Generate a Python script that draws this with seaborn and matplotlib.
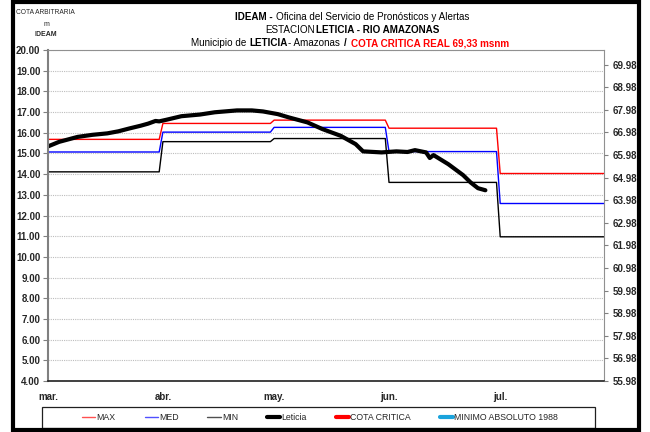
import numpy as np
import pandas as pd
import matplotlib
matplotlib.use("Agg")
import matplotlib.pyplot as plt
from matplotlib import font_manager
from matplotlib.lines import Line2D
from matplotlib.patches import Rectangle
import seaborn as sns

# ---- data -------------------------------------------------------------
months = ["2010-03", "2010-04", "2010-05", "2010-06", "2010-07"]
month_labels = ["mar.", "abr.", "may.", "jun.", "jul."]

# monthly reference levels (m, arbitrary datum)
cota_max = [15.68, 16.45, 16.61, 16.22, 14.03]
cota_med = [15.07, 16.03, 16.26, 15.09, 12.58]
cota_min = [14.11, 15.57, 15.72, 13.60, 10.97]

# observed river stage at Leticia
leticia_dates = [
    "2010-03-01", "2010-03-04", "2010-03-09", "2010-03-13", "2010-03-17",
    "2010-03-20", "2010-03-23", "2010-03-26", "2010-03-28", "2010-03-30",
    "2010-03-31", "2010-04-02", "2010-04-06", "2010-04-11", "2010-04-15",
    "2010-04-21", "2010-04-25", "2010-04-28", "2010-05-02", "2010-05-05",
    "2010-05-10", "2010-05-14", "2010-05-19", "2010-05-23", "2010-05-25",
    "2010-05-30", "2010-06-03", "2010-06-06", "2010-06-08", "2010-06-11",
    "2010-06-12", "2010-06-13", "2010-06-17", "2010-06-21", "2010-06-23",
    "2010-06-25", "2010-06-27",
]
leticia_levels = [
    15.34, 15.56, 15.80, 15.90, 15.97,
    16.07, 16.21, 16.34, 16.44, 16.57,
    16.55, 16.63, 16.80, 16.88, 16.99,
    17.08, 17.08, 17.03, 16.90, 16.74,
    16.50, 16.18, 15.85, 15.45, 15.10,
    15.05, 15.10, 15.07, 15.16, 15.05,
    14.78, 14.92, 14.48, 13.95, 13.60,
    13.32, 13.22,
]

left_ticks = list(range(4, 21))
right_ticks = [55.98 + i for i in range(15)]
legend_labels = ["MAX", "MED", "MIN", "Leticia", "COTA CRITICA", "MINIMO ABSOLUTO 1988"]

# ---- style ------------------------------------------------------------
sns.set_style("white")
available = {f.name for f in font_manager.fontManager.ttflist}
narrow = "Liberation Sans Narrow" if "Liberation Sans Narrow" in available else "Liberation Sans"
plt.rcParams["font.family"] = [narrow, "DejaVu Sans"]

W, H = 650, 432
fig = plt.figure(figsize=(W / 100, H / 100), dpi=100)
fig.patch.set_facecolor("white")


def fx(px):
    return px / W


def fy(py):
    return 1 - py / H


ax = fig.add_axes([fx(48), fy(381), (604 - 48) / W, (381 - 50) / H])

# monthly step lines: one point at the first and last day of each month
rows = []
for m, mx, md, mn in zip(months, cota_max, cota_med, cota_min):
    start = pd.Timestamp(m + "-01")
    end = start + pd.offsets.MonthEnd(0)
    for d in (start, end):
        rows += [(d, "MAX", mx), (d, "MED", md), (d, "MIN", mn)]
bands = pd.DataFrame(rows, columns=["fecha", "serie", "cota"])

palette = {"MAX": "#ff0000", "MED": "#0000ff", "MIN": "#000000"}
sns.lineplot(data=bands, x="fecha", y="cota", hue="serie", palette=palette,
             linewidth=1.0, estimator=None, legend=False, ax=ax)

obs = pd.DataFrame({"fecha": pd.to_datetime(leticia_dates), "cota": leticia_levels})
sns.lineplot(data=obs, x="fecha", y="cota", color="black", linewidth=3.0,
             estimator=None, legend=False, ax=ax)

ax.set_xlim(pd.Timestamp("2010-03-01"), pd.Timestamp("2010-07-29"))
ax.set_ylim(4, 20)
ax.set_xlabel("")
ax.set_ylabel("")

ax.yaxis.grid(True, color="#bdbdbd", linestyle=(0, (1, 1)), linewidth=0.8)
ax.xaxis.grid(False)
ax.set_axisbelow(True)

tick_size = 7
ax.set_yticks(left_ticks)
ax.set_yticklabels([f"{v:.2f}" for v in left_ticks], fontsize=tick_size, fontweight="bold")
ax.tick_params(axis="y", direction="out", length=3.5, width=0.8, color="#808080", pad=2)

ax.set_xticks([pd.Timestamp(m + "-01") for m in months])
ax.set_xticklabels(month_labels, fontsize=tick_size, fontweight="bold")
ax.tick_params(axis="x", direction="out", length=3, width=0.8, color="#404040", pad=5)

for side in ("top", "right"):
    ax.spines[side].set_color("#909090")
    ax.spines[side].set_linewidth(0.8)
ax.spines["left"].set_color("#808080")
ax.spines["left"].set_linewidth(1.5)
ax.spines["bottom"].set_color("#202020")
ax.spines["bottom"].set_linewidth(1.2)

# secondary axis in metres above sea level
ax2 = ax.twinx()
ax2.set_ylim(55.98, 70.63)
ax2.set_yticks(right_ticks)
ax2.set_yticklabels([f"{v:.2f}" for v in right_ticks], fontsize=tick_size, fontweight="bold")
ax2.tick_params(axis="y", direction="out", length=3, width=0.8, color="#808080", pad=3)
for s in ax2.spines.values():
    s.set_visible(False)

# ---- header texts -----------------------------------------------------
fig.text(fx(45), fy(13), "COTA ARBITRARIA", fontsize=4.8, ha="center", va="center")
fig.text(fx(46), fy(24), "m", fontsize=5, ha="center", va="center")
fig.text(fx(46), fy(35), "IDEAM", fontsize=5, fontweight="bold", ha="center", va="center")


def rich_line(y_px, pieces, size, cx_px):
    texts, gaps = [], []
    for s, weight, color, gap in pieces:
        t = fig.text(0, fy(y_px), s, fontsize=size, fontweight=weight,
                     color=color, ha="left", va="center")
        texts.append(t)
        gaps.append(gap)
    fig.canvas.draw()
    r = fig.canvas.get_renderer()
    widths = [t.get_window_extent(r).width for t in texts]
    total = sum(widths) + sum(gaps)
    x = cx_px - total / 2
    for t, w, g in zip(texts, widths, gaps):
        t.set_x(fx(x))
        x += w + g


title_size = 7.1
rich_line(17, [("IDEAM -", "bold", "black", 3),
               ("Oficina del Servicio de Pronósticos y Alertas", "normal", "black", 0)],
          title_size, 352)
rich_line(30, [("ESTACION", "normal", "black", 1),
               ("LETICIA - RIO AMAZONAS", "bold", "black", 0)],
          title_size, 352)
rich_line(43, [("Municipio de", "normal", "black", 3),
               ("LETICIA", "bold", "black", 1),
               ("- Amazonas", "normal", "black", 4),
               ("/", "bold", "black", 4),
               ("COTA CRITICA REAL 69,33 msnm", "bold", "#ff0000", 0)],
          title_size, 350)

# ---- legend -----------------------------------------------------------
handles = [
    Line2D([], [], color="#ff5050", lw=1.0),
    Line2D([], [], color="#5050ff", lw=1.0),
    Line2D([], [], color="#505050", lw=1.0),
    Line2D([], [], color="#000000", lw=3.0),
    Line2D([], [], color="#ff0000", lw=3.0),
    Line2D([], [], color="#1aa3dc", lw=3.0),
]
fig.legend(handles, legend_labels, loc="center", bbox_to_anchor=(fx(320), fy(417.5)),
           ncol=6, frameon=False, fontsize=6.3, handlelength=1.5, handletextpad=0.15,
           columnspacing=3.3, borderpad=0, borderaxespad=0)
fig.add_artist(Rectangle((fx(42), fy(428)), (595 - 42) / W, (428 - 407) / H,
                         transform=fig.transFigure, fill=False, edgecolor="#202020",
                         linewidth=0.9))

# outer frame
fig.add_artist(Rectangle((fx(12.5), fy(430)), (639 - 12.5) / W, (430 - 2) / H,
                         transform=fig.transFigure, fill=False, edgecolor="black",
                         linewidth=3.0))

fig.savefig("out.png", dpi=100, facecolor="white")
